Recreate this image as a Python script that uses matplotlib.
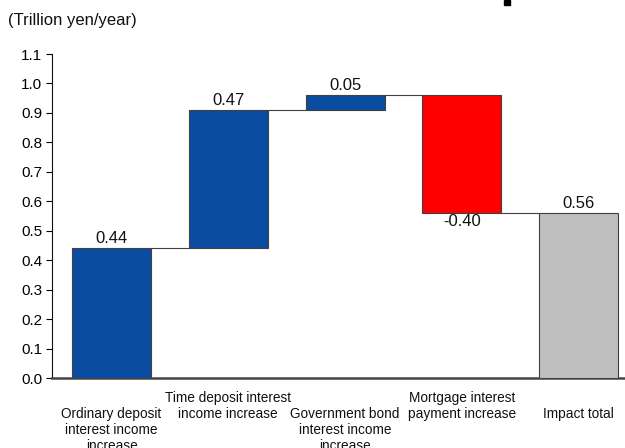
import matplotlib
matplotlib.use("Agg")
import matplotlib.pyplot as plt
import matplotlib.transforms as mtransforms
from matplotlib.patches import Rectangle
import numpy as np

plt.rcParams['font.family'] = ['Liberation Sans', 'DejaVu Sans']

categories = ["Ordinary deposit\ninterest income\nincrease",
              "Time deposit interest\nincome increase",
              "Government bond\ninterest income\nincrease",
              "Mortgage interest\npayment increase",
              "Impact total"]
values = [0.44, 0.47, 0.05, -0.40, 0.56]
label_texts = ["0.44", "0.47", "0.05", "-0.40", "0.56"]
is_total = [False, False, False, False, True]
yticks = [0.0, 0.1, 0.2, 0.3, 0.4, 0.5, 0.6, 0.7, 0.8, 0.9, 1.0, 1.1]
unit_label = "(Trillion yen/year)"

blue = "#0A4DA0"
red = "#FF0000"
gray = "#BFBFBF"
edge = "#404040"

fig = plt.figure(figsize=(6.25, 4.48), dpi=100)
ax = fig.add_axes([52/625, 1-378/448, 1-52/625, (378-54)/448])

x = np.arange(len(categories))
width = 0.677
bottoms, tops, colors = [], [], []
running = 0.0
for v, tot in zip(values, is_total):
    if tot:
        b, t = 0.0, v
        colors.append(gray)
        running = v
    else:
        b = running
        t = running + v
        running = t
        colors.append(blue if v >= 0 else red)
    bottoms.append(min(b, t))
    tops.append(max(b, t))

heights = [t - b for b, t in zip(bottoms, tops)]
ax.bar(x, heights, width=width, bottom=bottoms, color=colors,
       edgecolor=edge, linewidth=0.8, zorder=3)

# connectors
levels = np.cumsum([v for v, t in zip(values, is_total) if not t])
for i in range(len(values) - 1):
    lvl = levels[i] if i < len(levels) else levels[-1]
    ax.plot([x[i] + width/2, x[i+1] - width/2], [lvl, lvl],
            color=edge, linewidth=0.8, zorder=2)

# value labels
for i, (v, txt) in enumerate(zip(values, label_texts)):
    if v >= 0:
        ax.annotate(txt, (x[i], tops[i]), xytext=(0, 1.5), textcoords='offset points',
                    ha='center', va='bottom', fontsize=12, color='#111111')
    else:
        ax.annotate(txt, (x[i], bottoms[i]), xytext=(0, -0.5), textcoords='offset points',
                    ha='center', va='top', fontsize=12, color='#111111')

ax.set_xlim(-0.51, 4.398)
ax.set_ylim(0, 1.1)
ax.set_yticks(yticks)
ax.set_yticklabels([f"{t:.1f}" for t in yticks], fontsize=11)
ax.tick_params(axis='y', length=4, width=0.8, direction='out', pad=3)
ax.set_xticks([])
for s in ['top', 'right']:
    ax.spines[s].set_visible(False)
ax.spines['left'].set_linewidth(0.8)
ax.spines['left'].set_color('#111111')
ax.spines['bottom'].set_linewidth(1.8)
ax.spines['bottom'].set_color('#444444')

# staggered category labels
trans = mtransforms.blended_transform_factory(ax.transData, fig.transFigure)
for i, c in enumerate(categories):
    top_px = 391 if i in (1, 3) else 407
    ax.text(x[i], 1 - top_px/448, c, transform=trans, ha='center', va='top',
            fontsize=9.8, linespacing=1.2, color='#111111')

fig.text(8/625, 1 - 20/448, unit_label, ha='left', va='center', fontsize=12, color='#111111')
# cropped fragment of a heading at the very top edge
fig.patches.append(Rectangle((504/625, 1 - 5/448), 6/625, 5/448,
                             transform=fig.transFigure, color='black'))

fig.savefig("out.png", dpi=100)
